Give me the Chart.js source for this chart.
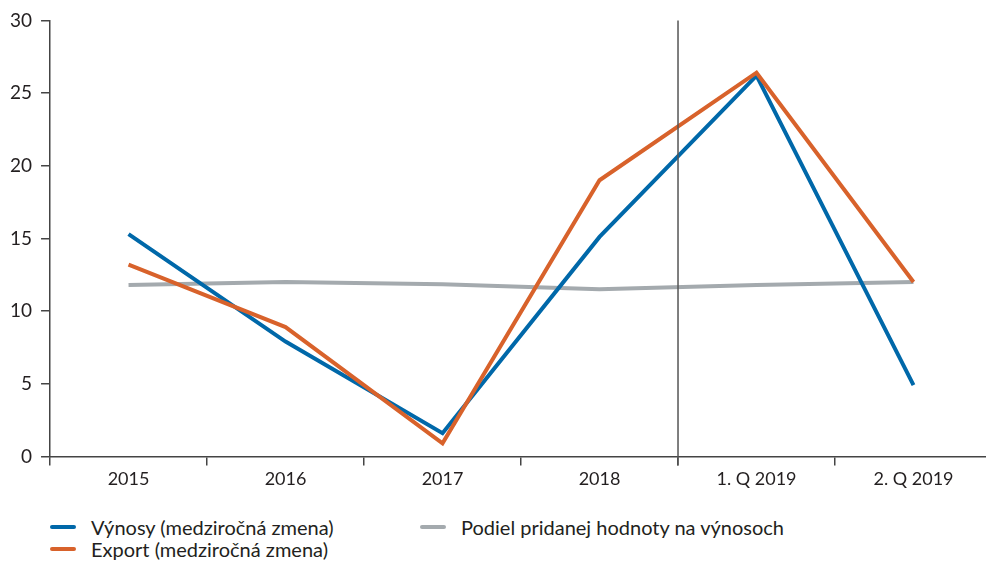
<!DOCTYPE html>
<html lang="sk">
<head>
    <meta charset="UTF-8">
    <title>Výnosy a export</title>
    <script src="https://cdn.jsdelivr.net/npm/chart.js"></script>
    <style>
        body {
            margin: 0;
            background: #fff;
            font-family: Lato, "Open Sans", sans-serif;
            color: #231f20;
            position: relative;
            width: 986px;
            height: 562px;
            overflow: hidden;
        }
        .chart-box {
            position: absolute;
            left: 0;
            top: 0;
            width: 992px; /* plot runs slightly past the right edge in the original */
            height: 493px;
        }
        .legend-item {
            position: absolute;
            display: flex;
            align-items: center;
            white-space: nowrap;
            font-size: 20px;
            line-height: 24px;
        }
        .legend-item span.swatch {
            display: inline-block;
            width: 26px;
            height: 4px;
            border-radius: 2px;
            margin-right: 15px;
        }
    </style>
</head>
<body>
    <div class="chart-box">
        <canvas id="lineChart"></canvas>
    </div>
    <div id="legend"></div>

    <script>
        const categories = ["2015", "2016", "2017", "2018", "1. Q 2019", "2. Q 2019"];
        const vynosy = [15.3, 7.9, 1.6, 15.1, 26.2, 4.9];
        const export_ = [13.2, 8.9, 0.9, 19.0, 26.4, 12.0];
        const podiel = [11.8, 12.0, 11.85, 11.5, 11.8, 12.0];
        const yTicks = [0, 5, 10, 15, 20, 25, 30];

        const seriesNames = ["Výnosy (medziročná zmena)", "Export (medziročná zmena)", "Podiel pridanej hodnoty na výnosoch"];
        const seriesColors = ["#0068a9", "#d8622b", "#a4aaae"];

        // vertical separator between 2018 and the quarters
        const separatorLine = {
            id: "separatorLine",
            afterDatasetsDraw(chart) {
                const x = chart.scales.x.getPixelForValue(3.5);
                const y = chart.scales.y;
                const ctx = chart.ctx;
                ctx.save();
                ctx.strokeStyle = "#555";
                ctx.lineWidth = 1.5;
                ctx.beginPath();
                ctx.moveTo(x, y.getPixelForValue(30));
                ctx.lineTo(x, y.getPixelForValue(0) + 9);
                ctx.stroke();
                ctx.restore();
            }
        };

        const datasets = [vynosy, export_, podiel].map((d, i) => ({
            label: seriesNames[i],
            data: d,
            borderColor: seriesColors[i],
            backgroundColor: seriesColors[i],
            borderWidth: 4,
            pointRadius: 0,
            tension: 0,
            order: i === 2 ? 2 : 1 - i
        }));

        new Chart(document.getElementById("lineChart").getContext("2d"), {
            type: "line",
            data: { labels: categories, datasets: datasets },
            options: {
                responsive: true,
                maintainAspectRatio: false,
                animation: false,
                layout: { padding: { top: 9, left: 1, right: 0, bottom: 0 } },
                plugins: {
                    legend: { display: false },
                    tooltip: { enabled: false }
                },
                scales: {
                    x: {
                        offset: true,
                        grid: { offset: true, drawOnChartArea: false, drawTicks: true, tickLength: 9, color: "#444", lineWidth: 1.5 },
                        border: { color: "#444", width: 1.5 },
                        ticks: { color: "#231f20", font: { family: "Lato", size: 18 }, padding: 3, maxRotation: 0 }
                    },
                    y: {
                        min: 0,
                        max: 30,
                        afterBuildTicks: axis => { axis.ticks = yTicks.map(v => ({ value: v })); },
                        grid: { drawOnChartArea: false, drawTicks: true, tickLength: 9, color: "#444", lineWidth: 1.5 },
                        border: { color: "#444", width: 1.5 },
                        ticks: { color: "#231f20", font: { family: "Lato", size: 19 }, padding: 9 }
                    }
                }
            },
            plugins: [separatorLine]
        });

        // legend in two columns like the original
        const legendPos = [[50, 527], [50, 549], [420, 527]];
        const legend = document.getElementById("legend");
        seriesNames.forEach((name, i) => {
            const item = document.createElement("div");
            item.className = "legend-item";
            item.style.left = legendPos[i][0] + "px";
            item.style.top = (legendPos[i][1] - 12) + "px";
            item.innerHTML = `<span class="swatch" style="background:${seriesColors[i]}"></span>${name}`;
            legend.appendChild(item);
        });
    </script>
</body>
</html>
